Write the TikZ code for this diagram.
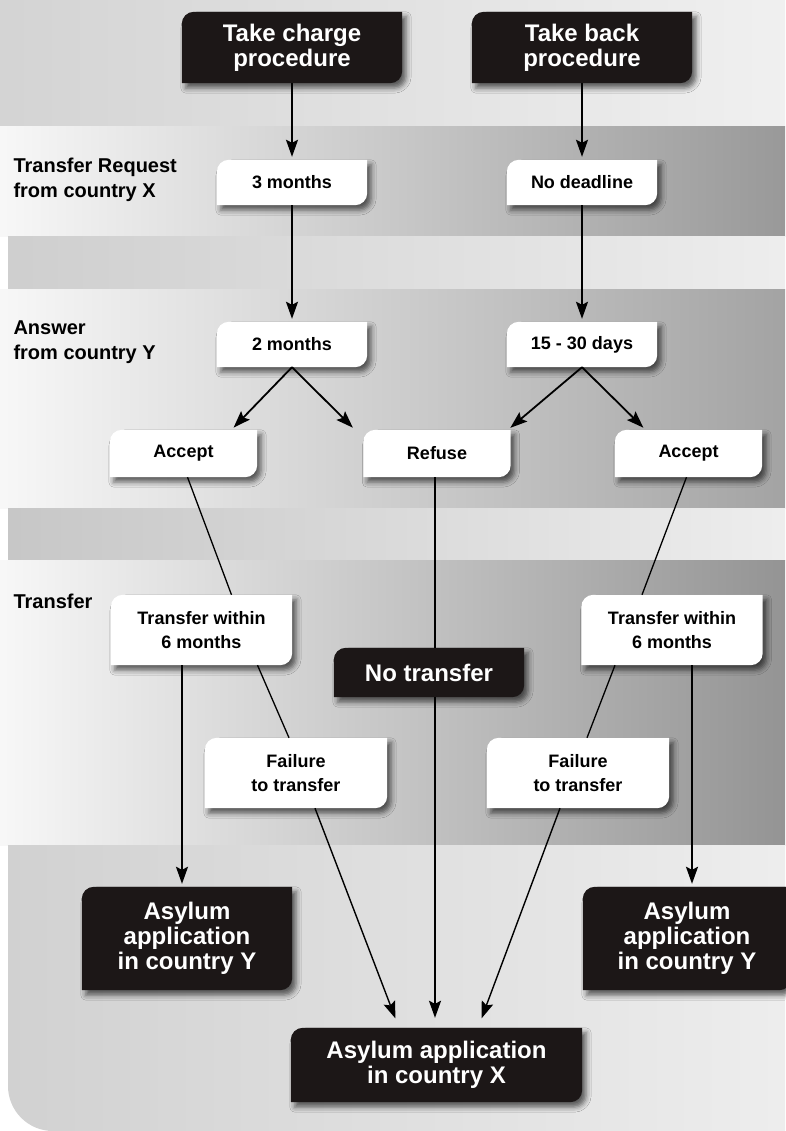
\documentclass[tikz,border=0pt]{standalone}
\usepackage{fontspec}
\setmainfont{Liberation Sans}
\usetikzlibrary{arrows.meta,shadows.blur}
\pgfdeclarelayer{background}
\pgfsetlayers{background,main}
\definecolor{boxblack}{HTML}{1C1717}
% box with two rounded corners and a soft shadow
\newcommand\leafbox[2]{%
  \fill[#2, blur shadow={shadow xshift=4pt, shadow yshift=-5pt, shadow blur radius=5pt, shadow opacity=60}]
    (#1.south west) -- ([yshift=-12pt]#1.north west)
    arc[start angle=180, end angle=90, radius=12pt] -- (#1.north east)
    -- ([yshift=12pt]#1.south east)
    arc[start angle=0, end angle=-90, radius=12pt] -- cycle;}

\begin{document}
\begin{tikzpicture}[x=1pt, y=1pt,
    wbox/.style={inner sep=0pt, minimum width=150pt, minimum height=45pt, align=center, font=\bfseries\fontsize{18}{24}\selectfont},
    bbox/.style={inner sep=0pt, align=center, text=white, font=\bfseries\fontsize{24}{25}\selectfont},
    lab/.style={anchor=west, align=left, font=\bfseries\fontsize{20}{25}\selectfont},
    arr/.style={-{Stealth[length=17pt, width=12pt, inset=3pt, fill=black]}, line width=1.8pt, shorten >=3pt},
    link/.style={line width=1.3pt}]
    \useasboundingbox (0,0) rectangle (785,-1131);
    \node[bbox, minimum width=220pt, minimum height=71pt] (charge) at (292,-47.5) {Take charge\\procedure};
    \node[bbox, minimum width=220pt, minimum height=71pt] (back) at (582,-47.5) {Take back\\procedure};
    \node[lab] (lblRequest) at (10,-180) {Transfer Request\\from country X};
    \node[wbox] (req3) at (292,-182.5) {3 months};
    \node[wbox] (reqNone) at (582,-182.5) {No deadline};
    \node[lab] (lblAnswer) at (10,-342) {Answer\\from country Y};
    \node[wbox] (ans2) at (292,-344.5) {2 months};
    \node[wbox] (ans15) at (582,-344.5) {15 - 30 days};
    \node[wbox, minimum width=147pt, minimum height=47pt] (acceptL) at (183.5,-453.5) {Accept};
    \node[wbox, minimum width=147pt, minimum height=47pt] (refuse) at (437,-453.5) {Refuse};
    \node[wbox, minimum width=147pt, minimum height=47pt] (acceptR) at (688.5,-453.5) {Accept};
    \node[lab] (lblTransfer) at (10,-601) {Transfer};
    \node[wbox, minimum width=181pt, minimum height=70pt] (withinL) at (201.5,-630) {Transfer within\\6 months};
    \node[wbox, minimum width=181pt, minimum height=70pt] (withinR) at (672,-630) {Transfer within\\6 months};
    \node[bbox, minimum width=190pt, minimum height=49pt] (noTransfer) at (429,-672.5) {No transfer};
    \node[wbox, minimum width=182pt, minimum height=70pt] (failL) at (296,-773) {Failure\\to transfer};
    \node[wbox, minimum width=182pt, minimum height=70pt] (failR) at (578,-773) {Failure\\to transfer};
    \node[bbox, minimum width=210pt, minimum height=103pt] (asylumYL) at (187,-938.5) {Asylum\\application\\in country Y};
    \node[bbox, minimum width=208pt, minimum height=103pt] (asylumYR) at (687,-938.5) {Asylum\\application\\in country Y};
    \node[bbox, minimum width=291pt, minimum height=74pt] (asylumX) at (436.5,-1065) {Asylum application\\in country X};
    \begin{pgfonlayer}{background}
      % bands
      \fill[white] (0,0) rectangle (785,-1131);
      \shade[left color=black!17, right color=black!6] (0,0) rectangle (785,-127);
      \shade[left color=black!3, middle color=black!14, right color=black!40] (0,-127) rectangle (785,-237);
      \shade[left color=black!19, right color=black!7] (8,-237) rectangle (785,-290);
      \shade[left color=black!3, middle color=black!14, right color=black!36] (0,-290) rectangle (785,-508);
      \shade[left color=black!22, right color=black!7] (8,-508) rectangle (785,-560);
      \shade[left color=black!3, middle color=black!15, right color=black!42] (0,-560) rectangle (785,-845);
      \shade[left color=black!18, right color=black!7] (785,-845) -- (8,-845) -- (8,-1086)
        arc[start angle=180, end angle=270, radius=45pt] -- (785,-1131) -- cycle;
      % boxes
      \foreach \n in {req3,reqNone,ans2,ans15,acceptL,refuse,acceptR,withinL,withinR,failL,failR}
        {\leafbox{\n}{white}}
      \foreach \n in {charge,back,noTransfer,asylumYL,asylumYR,asylumX}
        {\leafbox{\n}{boxblack}}
    \end{pgfonlayer}
    \draw[arr] (charge) -- (req3);
    \draw[arr] (back) -- (reqNone);
    \draw[arr] (req3) -- (ans2);
    \draw[arr] (reqNone) -- (ans15);
    \draw[arr] (ans2.south) -- ([xshift=48pt]acceptL.north);
    \draw[arr] (ans2.south) -- ([xshift=-82pt]refuse.north);
    \draw[arr] (ans15.south) -- ([xshift=71pt]refuse.north);
    \draw[arr] (ans15.south) -- ([xshift=-43pt]acceptR.north);
    \draw[link] ([xshift=4pt]acceptL.south) -- ([xshift=30pt]withinL.north);
    \draw[link, line width=1.8pt] ([xshift=-2pt]refuse.south) -- ([xshift=6pt]noTransfer.north);
    \draw[link] ([xshift=-2pt]acceptR.south) -- ([xshift=-30pt]withinR.north);
    \draw[arr] ([xshift=-19.5pt]withinL.south) -- ([xshift=-5pt]asylumYL.north);
    \draw[link] ([xshift=56pt]withinL.south) -- ([xshift=-7pt]failL.north);
    \draw[link] ([xshift=-57pt]withinR.south) -- ([xshift=9pt]failR.north);
    \draw[arr] ([xshift=20pt]withinR.south) -- ([xshift=5pt]asylumYR.north);
    \draw[arr, shorten >=10pt] ([xshift=6pt]noTransfer.south) -- ([xshift=-1.5pt]asylumX.north);
    \draw[arr, shorten >=10pt, line width=1.4pt] ([xshift=19pt]failL.south) -- ([xshift=-37.5pt]asylumX.north);
    \draw[arr, shorten >=10pt, line width=1.4pt] ([xshift=-18pt]failR.south) -- ([xshift=41.5pt]asylumX.north);
\end{tikzpicture}
\end{document}
